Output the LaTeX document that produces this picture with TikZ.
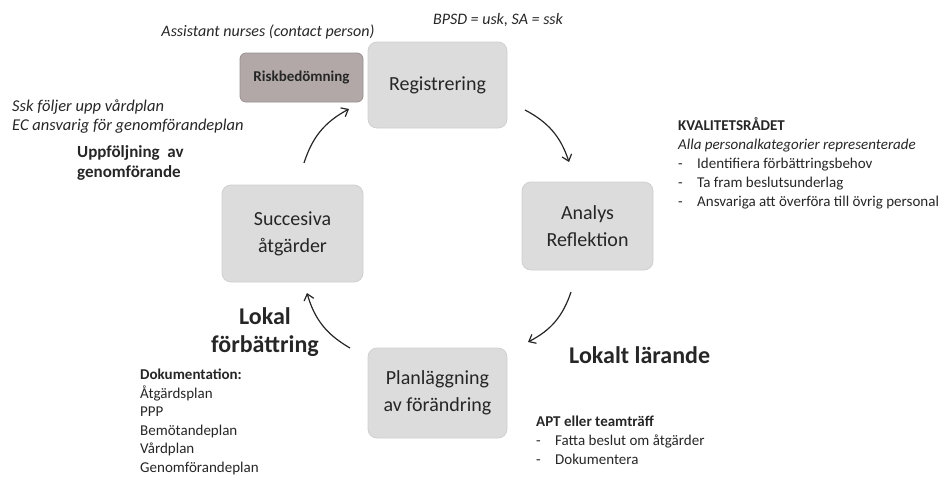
\documentclass[tikz,border=0pt]{standalone}
\usepackage{fontspec}
\setmainfont{Carlito}
\usetikzlibrary{arrows.meta}

\definecolor{stagefill}{HTML}{DCDCDC}
\definecolor{stageline}{HTML}{D0D0D0}
\definecolor{riskfill}{HTML}{B2A8A8}
\definecolor{riskline}{HTML}{9A9090}
\definecolor{ink}{HTML}{262626}

\tikzset{
  stage/.style={rectangle, rounded corners=9pt, fill=stagefill, draw=stageline,
    line width=0.8pt, text=ink, align=center, inner sep=0pt,
    font=\fontsize{20}{27}\selectfont},
  riskbox/.style={rectangle, rounded corners=6pt, fill=riskfill, draw=riskline,
    line width=0.8pt, text=ink, align=center, inner sep=0pt,
    font=\fontsize{15}{18}\selectfont\bfseries},
  note/.style={text=ink, inner sep=0pt, align=left},
  bigword/.style={text=ink, inner sep=0pt, font=\fontsize{24}{28}\selectfont\bfseries},
  cycle/.style={-{Straight Barb[length=6pt,width=10pt]}, line width=1.2pt, ink, bend left=22}
}

\begin{document}
\begin{tikzpicture}[x=1pt,y=-1pt]
\useasboundingbox (0,0) rectangle (944,477);

% the five stages of the improvement cycle
\node[stage, minimum width=139pt, minimum height=86pt] (reg)  at (437.5,85) {Registrering};
\node[riskbox, minimum width=123pt, minimum height=49pt] (risk) at (301.5,77.5) {Riskbedömning};
\node[stage, minimum width=131pt, minimum height=88pt] (ana)  at (587.5,226) {Analys\\Reflektion};
\node[stage, minimum width=139pt, minimum height=90pt] (plan) at (437.5,393) {Planläggning\\av förändring};
\node[stage, minimum width=141pt, minimum height=97pt] (succ) at (292.5,233.5) {Succesiva\\åtgärder};

% end points of the curved arrows between the stages
\coordinate (r1) at (525,110);  \coordinate (r2) at (569,162);
\coordinate (a1) at (571,292);  \coordinate (a2) at (528,342);
\coordinate (p1) at (350,348);  \coordinate (p2) at (307,293);
\coordinate (s1) at (304,163);  \coordinate (s2) at (349,109);
\draw[cycle] (r1) to (r2);
\draw[cycle] (a1) to (a2);
\draw[cycle] (p1) to (p2);
\draw[cycle] (s1) to (s2);

% annotations
\node[note, font=\fontsize{16}{19}\selectfont\itshape] (nurses) at (268,32) {Assistant nurses (contact person)};
\node[note, font=\fontsize{16}{19}\selectfont\itshape] (bpsd) at (498,20) {BPSD = usk, SA = ssk};

\node[note, anchor=west, font=\fontsize{15}{19}\selectfont] (kval) at (678,163)
  {\textbf{KVALITETSRÅDET}\\
   \textit{Alla personalkategorier representerade}\\
   \makebox[19pt][l]{-}Identifiera förbättringsbehov\\
   \makebox[19pt][l]{-}Ta fram beslutsunderlag\\
   \makebox[19pt][l]{-}Ansvariga att överföra till övrig personal};

\node[note, anchor=west, font=\fontsize{16.5}{19.5}\selectfont\itshape] (ssk) at (12,116.5)
  {Ssk följer upp vårdplan\\EC ansvarig för genomförandeplan};
\node[note, anchor=west, font=\fontsize{17}{20}\selectfont\bfseries] (uppf) at (77,163)
  {Uppföljning\ \ av\\genomförande};

\node[bigword, align=center] (lokal) at (265,332) {Lokal\\förbättring};
\node[bigword, anchor=west] (lara) at (569,355) {Lokalt lärande};

\node[note, anchor=west, font=\fontsize{15}{18.5}\selectfont] (dok) at (140,422)
  {\textbf{Dokumentation:}\\Åtgärdsplan\\PPP\\Bemötandeplan\\Vårdplan\\Genomförandeplan};

\node[note, anchor=west, font=\fontsize{15}{19}\selectfont] (apt) at (536,440)
  {\textbf{APT eller teamträff}\\
   \makebox[19pt][l]{-}Fatta beslut om åtgärder\\
   \makebox[19pt][l]{-}Dokumentera};
\end{tikzpicture}
\end{document}
